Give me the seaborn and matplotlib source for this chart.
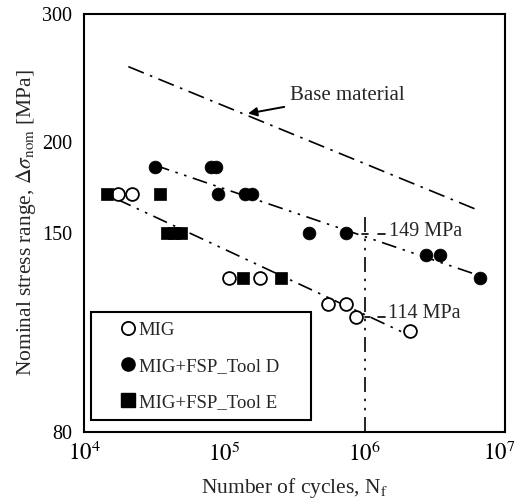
import matplotlib
matplotlib.use("Agg")
import matplotlib.pyplot as plt
import matplotlib.transforms as mtransforms
import seaborn as sns
import pandas as pd
from matplotlib.lines import Line2D
from matplotlib.ticker import FixedLocator, FixedFormatter, NullLocator

# ---- data ----
mig_N = [17500, 21900, 108000, 179000, 546000, 733000, 867000, 2100000]
mig_S = [170, 170, 130, 130, 120, 120, 115, 110]

toolD_N = [31900, 80400, 86900, 90600, 140000, 157000, 403000, 733000, 2720000, 3440000, 6670000]
toolD_S = [185, 185, 185, 170, 170, 170, 150, 150, 140, 140, 130]

toolE_N = [14500, 34800, 39300, 43700, 48900, 135000, 254000]
toolE_S = [170, 170, 150, 150, 150, 130, 130]

# S-N lines (end points)
base_N = [20700, 6100000]
base_S = [254, 162]
lineD_N = [32000, 6700000]
lineD_S = [186, 131]
lineE_N = [17200, 1900000]
lineE_S = [167, 109.5]
knee_N = [1e6, 1e6]
knee_S = [80, 161]

x_ticks = [1e4, 1e5, 1e6, 1e7]
x_labels = [r"$10^{4}$", r"$10^{5}$", r"$10^{6}$", r"$10^{7}$"]
y_ticks = [80, 150, 200, 300]
y_labels = ["80", "150", "200", "300"]

sns.set_theme(style="white")
plt.rcParams["font.family"] = ["Liberation Serif", "DejaVu Serif"]
plt.rcParams["mathtext.fontset"] = "stix"

FS = 15
fig = plt.figure(figsize=(5.19, 5.04), dpi=100)
ax = fig.add_axes([84 / 519, 1 - 432 / 504, 421 / 519, 418 / 504])
ax.set_xscale("log")
ax.set_yscale("log")
ax.set_xlim(1e4, 1e7)
ax.set_ylim(80, 300)

dd = (0, (9, 4, 1.5, 4, 1.5, 4))
d1 = (0, (10, 4, 1.5, 4))
lk = dict(color="black", lw=1.2)
sns.lineplot(x=base_N, y=base_S, ax=ax, linestyle=d1, **lk)
sns.lineplot(x=lineD_N, y=lineD_S, ax=ax, linestyle=dd, **lk)
sns.lineplot(x=lineE_N, y=lineE_S, ax=ax, linestyle=dd, **lk)
ax.plot(knee_N, knee_S, linestyle=dd, **lk)

# small marks at knee point
ax.plot([0.96e6, 1.06e6], [149.5, 149.5], color="black", lw=1.2)
ax.plot([1.25e6, 1.4e6], [149.5, 149.5], color="black", lw=1.2)
ax.plot([1.0e6, 1.1e6], [115, 115], color="black", lw=1.2)
ax.plot([1.25e6, 1.4e6], [115, 115], color="black", lw=1.2)
ax.text(1.5e6, 150.7, "149 MPa", fontsize=14.5, va="center", ha="left")
ax.text(1.47e6, 116.5, "114 MPa", fontsize=14.5, va="center", ha="left")

ms = 85
sns.scatterplot(x=mig_N, y=mig_S, ax=ax, marker="o", s=ms, facecolor="white",
                edgecolor="black", linewidth=1.3, zorder=3)
sns.scatterplot(x=toolD_N, y=toolD_S, ax=ax, marker="o", s=ms, color="black",
                edgecolor="black", linewidth=0.5, zorder=3)
sns.scatterplot(x=toolE_N, y=toolE_S, ax=ax, marker="s", s=ms, color="black",
                edgecolor="black", linewidth=0.5, zorder=3)

ax.annotate("Base material", xy=(1.475e5, 219), xytext=(2.95e5, 232),
            fontsize=FS, va="center", ha="left",
            arrowprops=dict(arrowstyle="-|>", color="black", lw=1.4,
                            mutation_scale=13, shrinkA=2, shrinkB=0))

ax.xaxis.set_major_locator(FixedLocator(x_ticks))
ax.xaxis.set_major_formatter(FixedFormatter(x_labels))
ax.xaxis.set_minor_locator(NullLocator())
ax.yaxis.set_major_locator(FixedLocator(y_ticks))
ax.yaxis.set_major_formatter(FixedFormatter(y_labels))
ax.yaxis.set_minor_locator(NullLocator())
ax.tick_params(axis="both", direction="in", length=5, width=1, colors="black")
ax.tick_params(axis="y", labelsize=14.5, pad=8.5)
ax.tick_params(axis="x", labelsize=16.5, pad=7)
for sp in ax.spines.values():
    sp.set_color("black")
    sp.set_linewidth(1.5)

# keep the last x tick label inside the figure
fig.canvas.draw()
xt = ax.get_xticklabels()
xt[-1].set_transform(xt[-1].get_transform() +
                     mtransforms.ScaledTranslation(-6 / 100, 0, fig.dpi_scale_trans))

ax.set_xlabel(r"Number of cycles, N$_{\rm f}$", fontsize=15.5, labelpad=7)
ax.set_ylabel(r"Nominal stress range, $\Delta\sigma_{\rm nom}$ [MPa]", fontsize=15.5, labelpad=3)

handles = [
    Line2D([], [], marker="o", ls="none", markersize=9.5, markerfacecolor="white",
           markeredgecolor="black", markeredgewidth=1.3),
    Line2D([], [], marker="o", ls="none", markersize=9.5, markerfacecolor="black",
           markeredgecolor="black"),
    Line2D([], [], marker="s", ls="none", markersize=9.5, markerfacecolor="black",
           markeredgecolor="black"),
]
leg = ax.legend(handles, ["MIG", "MIG+FSP_Tool D", "MIG+FSP_Tool E"],
                loc="lower left", bbox_to_anchor=(0.0166, 0.0287, 0.523, 0.2),
                mode="expand", borderaxespad=0, fancybox=False, frameon=True,
                edgecolor="black", fontsize=13.5, labelspacing=1.0,
                handlelength=2.94, handletextpad=-0.9, borderpad=0.5)
leg.get_frame().set_linewidth(1.5)
leg.get_frame().set_alpha(1)

fig.savefig("out.png", dpi=100)
